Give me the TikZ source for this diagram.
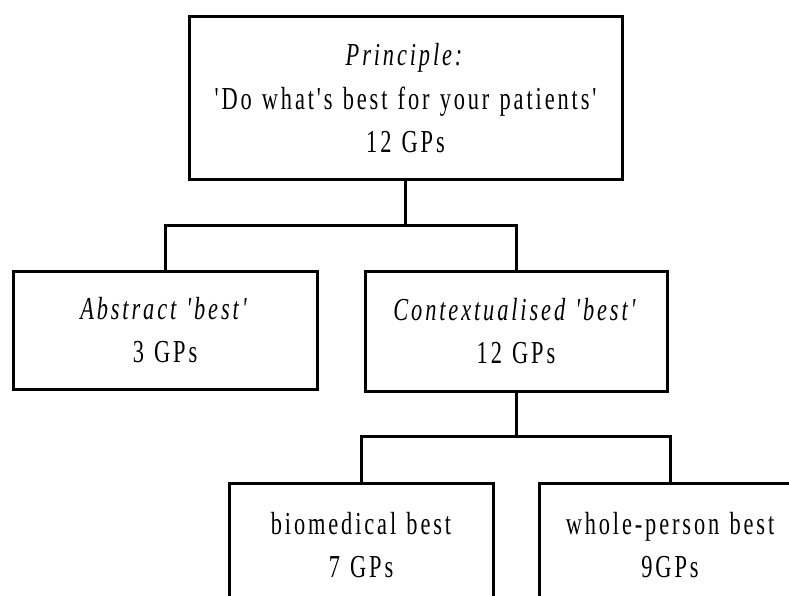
\documentclass[tikz,border=0pt]{standalone}
\usepackage{fontspec}
\setmainfont{Liberation Serif}[FakeStretch=0.7, LetterSpace=9, WordSpace=1.2, Ligatures=TeXOff]
\begin{document}
\begin{tikzpicture}[x=1pt,y=-1pt,
  box/.style={draw, line width=3pt, align=center, inner sep=0pt,
    font=\fontsize{32}{43.5}\selectfont},
  conn/.style={draw, line width=3pt}]
\useasboundingbox (0,0) rectangle (789,596);
\clip (0,0) rectangle (789,596);
\node[box, minimum width=433pt, minimum height=163pt] (top) at (405.5,98.5)
  {\textit{Principle:}\\'Do what's best for your patients'\\12 GPs};
\node[box, minimum width=304pt, minimum height=118pt] (left) at (165,330)
  {\textit{Abstract 'best'}\\3 GPs};
\node[box, minimum width=302pt, minimum height=120pt] (mid) at (516,331)
  {\textit{Contextualised 'best'}\\12 GPs};
\node[box, minimum width=264pt, minimum height=124pt] (bl) at (361,545)
  {biomedical best\\7 GPs};
\node[box, minimum width=262pt, minimum height=124pt] (br) at (670,545)
  {whole-person best\\9GPs};
\coordinate (h1) at (405.5,225);
\coordinate (h2) at (516,436);
\draw[conn] (top.south) -- (h1);
\draw[conn] (left.north) |- (h1) -| (mid.north);
\draw[conn] (mid.south) -- (h2);
\draw[conn] (bl.north) |- (h2) -| (br.north);
\end{tikzpicture}
\end{document}
